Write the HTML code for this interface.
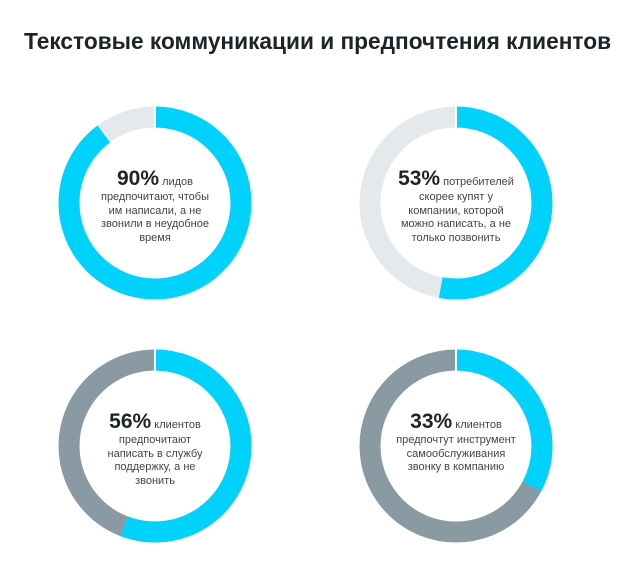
<!DOCTYPE html>
<html><head><meta charset="utf-8"><style>
body{margin:0;background:#fff;width:635px;height:569px;overflow:hidden;font-family:"Liberation Sans","DejaVu Sans",sans-serif}
svg{position:absolute;left:0;top:0}
.t{position:absolute;width:160px;text-align:center;font-size:11px;line-height:13.5px;color:#444;white-space:nowrap}
.t b{font-size:21px;line-height:24px;color:#1e2328;font-weight:bold}
h1{position:absolute;left:24px;top:28px;margin:0;font-size:22.7px;color:#1e2328;font-weight:bold;white-space:nowrap}
</style></head><body>
<h1>Текстовые коммуникации и предпочтения клиентов</h1>
<svg width="635" height="569">
<g fill="none" stroke-width="21">
<g transform="translate(155,203) rotate(-90)">
<circle r="86" stroke="#e6e9ec"/>
<circle r="86" stroke="#00d2fb" stroke-dasharray="485.3 540.4"/>
</g>
<g transform="translate(456,203) rotate(-90)">
<circle r="86" stroke="#e6e9ec"/>
<circle r="86" stroke="#00d2fb" stroke-dasharray="285.4 540.4"/>
</g>
<g transform="translate(155,446) rotate(-90)">
<circle r="86" stroke="#8a9aa3"/>
<circle r="86" stroke="#00d2fb" stroke-dasharray="301.6 540.4"/>
</g>
<g transform="translate(456,446) rotate(-90)">
<circle r="86" stroke="#8a9aa3"/>
<circle r="86" stroke="#00d2fb" stroke-dasharray="177.3 540.4"/>
</g>
</g>
<g stroke="#fff" stroke-width="2">
<line x1="155" y1="105" x2="155" y2="128"/>
<line x1="456" y1="105" x2="456" y2="128"/>
<line x1="155" y1="348" x2="155" y2="371"/>
<line x1="456" y1="348" x2="456" y2="371"/>
</g>
</svg>
<div class="t" style="left:75px;top:167px"><b>90%</b> лидов<br>предпочитают, чтобы<br>им написали, а не<br>звонили в неудобное<br>время</div>
<div class="t" style="left:376px;top:167px"><b>53%</b> потребителей<br>скорее купят у<br>компании, которой<br>можно написать, а не<br>только позвонить</div>
<div class="t" style="left:75px;top:410px"><b>56%</b> клиентов<br>предпочитают<br>написать в службу<br>поддержку, а не<br>звонить</div>
<div class="t" style="left:376px;top:410px"><b>33%</b> клиентов<br>предпочтут инструмент<br>самообслуживания<br>звонку в компанию</div>
</body></html>
